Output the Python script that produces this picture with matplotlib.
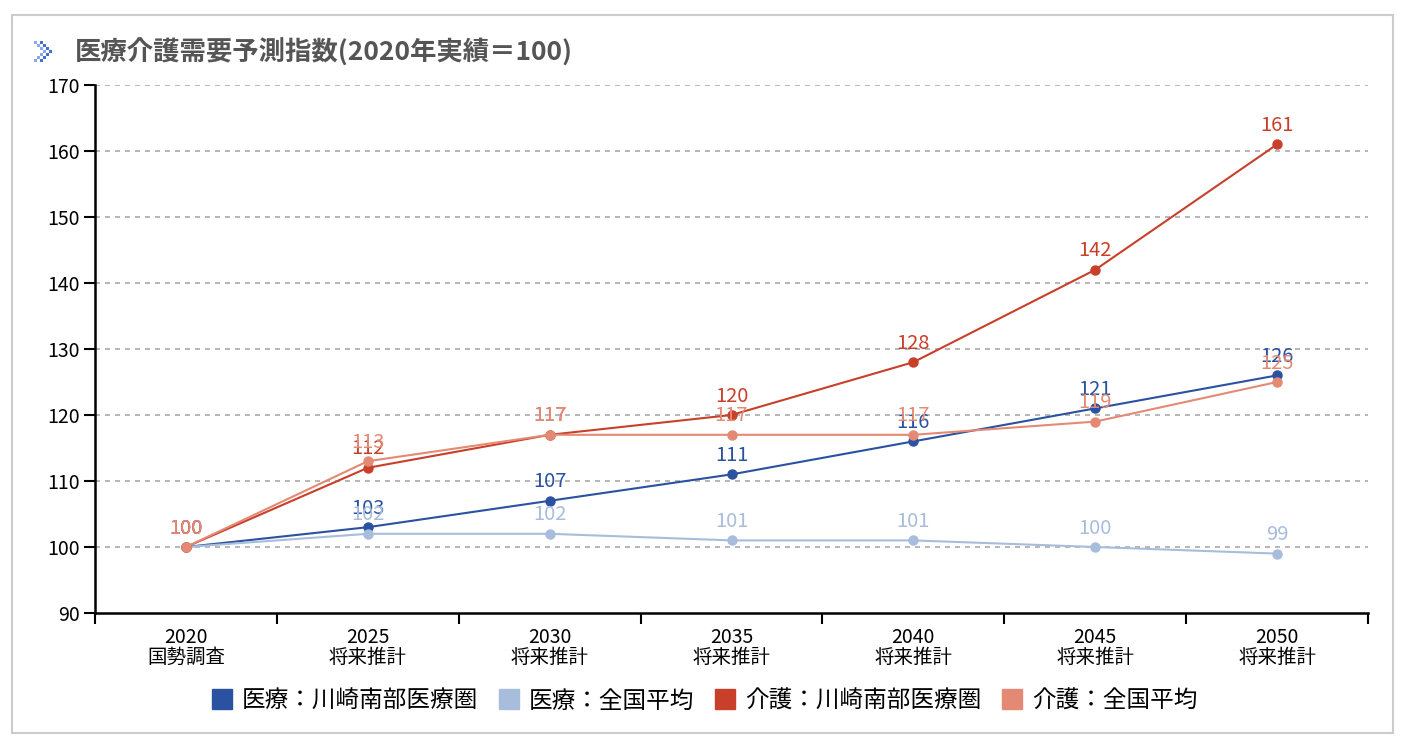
import matplotlib
matplotlib.use("Agg")
import matplotlib.pyplot as plt
from matplotlib.lines import Line2D
from matplotlib.patches import Rectangle

plt.rcParams['font.family'] = ['Noto Sans CJK JP', 'DejaVu Sans']

# data
years = ["2020", "2025", "2030", "2035", "2040", "2045", "2050"]
kinds = ["国勢調査", "将来推計", "将来推計", "将来推計", "将来推計", "将来推計", "将来推計"]
iryo_kawasaki = [100, 103, 107, 111, 116, 121, 126]
iryo_zenkoku = [100, 102, 102, 101, 101, 100, 99]
kaigo_kawasaki = [100, 112, 117, 120, 128, 142, 161]
kaigo_zenkoku = [100, 113, 117, 117, 117, 119, 125]

series = [
    ("医療：川崎南部医療圏", iryo_kawasaki, "#2a52a0"),
    ("医療：全国平均", iryo_zenkoku, "#a8bddc"),
    ("介護：川崎南部医療圏", kaigo_kawasaki, "#c8402a"),
    ("介護：全国平均", kaigo_zenkoku, "#e48a74"),
]

fig = plt.figure(figsize=(14.08, 7.5), dpi=100)

# outer frame
fig.patches.append(Rectangle((12 / 1408, 1 - 733 / 750), 1381 / 1408, 718 / 750,
                             transform=fig.transFigure, fill=False,
                             edgecolor="#cccccc", linewidth=1.5))

ax = fig.add_axes([95 / 1408, 1 - 613 / 750, 1273 / 1408, 528 / 750])

x = list(range(len(years)))
for name, vals, col in series:
    ax.plot(x, vals, color=col, linewidth=1.5, marker="o", markersize=6.5,
            label=name, zorder=3)
    for xi, v in zip(x, vals):
        ax.annotate(str(v), (xi, v), xytext=(0, 6), textcoords="offset points",
                    ha="center", va="bottom", color=col, fontsize=14.5, zorder=4)

ax.set_xlim(-0.5, len(years) - 0.5)
ax.set_ylim(90, 170)
yt = list(range(90, 171, 10))
ax.set_yticks(yt)
ax.set_yticklabels([str(v) for v in yt], fontsize=14)
for v in yt[1:]:
    ax.axhline(v, color="#aaaaaa", linestyle=(0, (3, 3)), linewidth=1.2, zorder=1)

ax.set_xticks([i - 0.5 for i in range(len(years) + 1)])
ax.set_xticklabels([])
ax.set_xticks(x, minor=True)
ax.set_xticklabels([y + "\n" + k for y, k in zip(years, kinds)], minor=True,
                   fontsize=14, linespacing=0.95)
ax.tick_params(axis="x", which="major", length=8, width=1.5)
ax.tick_params(axis="x", which="minor", length=0, pad=10)
ax.tick_params(axis="y", length=8, width=1.5, pad=3)

for s in ["top", "right"]:
    ax.spines[s].set_visible(False)
for s in ["left", "bottom"]:
    ax.spines[s].set_linewidth(1.8)

# title with small checkered chevron icon
icon = fig.add_axes([34 / 1408, 1 - 62 / 750, 21 / 1408, 21 / 750])
icon.set_xlim(0, 7)
icon.set_ylim(0, 7)
icon.axis("off")
for r in range(7):
    for c in range(7):
        edge = 3 - abs(r - 3)
        if edge <= c <= edge + 3 and (r + c) % 2 == 0:
            shade = "#3f6fd8" if (c - edge) >= 2 else "#8aa8ea"
            icon.add_patch(Rectangle((c, r), 1, 1, color=shade, linewidth=0))
fig.text(75 / 1408, 1 - 53 / 750, "医療介護需要予測指数(2020年実績＝100)",
         fontsize=19, fontweight="bold", color="#555555", va="center", ha="left")

handles = [Line2D([], [], linestyle="none", marker="s", markersize=14,
                  markerfacecolor=c, markeredgecolor=c) for _, _, c in series]
fig.legend(handles, [n for n, _, _ in series], loc="center",
           bbox_to_anchor=(0.5, 1 - 701 / 750), ncol=4, frameon=False,
           fontsize=17, handletextpad=0.35, columnspacing=0.8, handlelength=1.0)

fig.savefig("out.png", dpi=100)
